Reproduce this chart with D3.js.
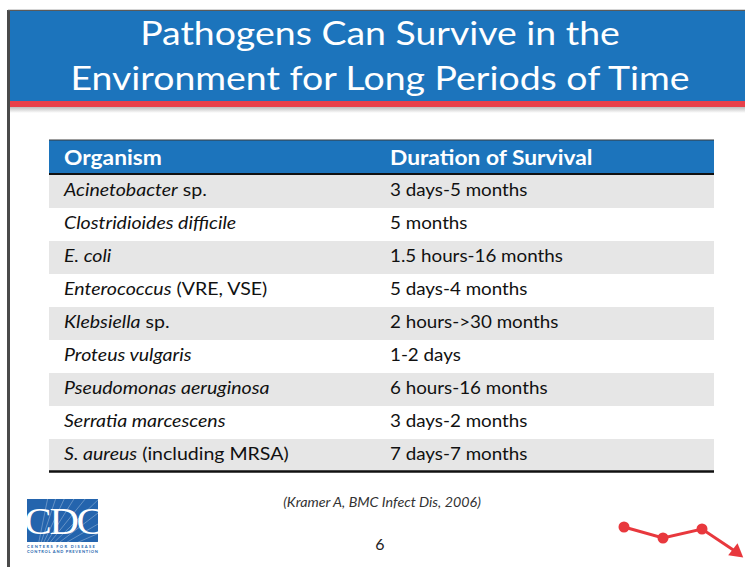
<!DOCTYPE html>
<html>
<head>
<meta charset="utf-8">
<script src="https://cdn.jsdelivr.net/npm/d3@7/dist/d3.min.js"></script>
<style>
  html, body { margin: 0; padding: 0; background: #ffffff; }
  svg { display: block; font-family: Lato, "Open Sans", sans-serif; }
</style>
</head>
<body>
<svg id="slide" width="745" height="567"></svg>
<script>
// 標題
const titleLines = ['Pathogens Can Survive in the', 'Environment for Long Periods of Time'];

// 表格欄位
const columns = ['Organism', 'Duration of Survival'];

// 菌種名稱 (斜體部分 + 正體部分)
const organismItalic = ['Acinetobacter', 'Clostridioides difficile', 'E. coli', 'Enterococcus', 'Klebsiella',
  'Proteus vulgaris', 'Pseudomonas aeruginosa', 'Serratia marcescens', 'S. aureus'];
const organismPlain = [' sp.', '', '', ' (VRE, VSE)', ' sp.', '', '', '', ' (including MRSA)'];

// 存活時間
const survival = ['3 days-5 months', '5 months', '1.5 hours-16 months', '5 days-4 months', '2 hours->30 months',
  '1-2 days', '6 hours-16 months', '3 days-2 months', '7 days-7 months'];

const citation = '(Kramer A, BMC Infect Dis, 2006)';
const pageNumber = '6';

// 右下角裝飾折線
const trendX = [0, 1, 2, 2.88];
const trendY = [3, 1.9, 2.8, 0.5];

// Calibri 比 Lato 寬，用水平縮放補回來
const STRETCH_TITLE = 1.17;
const STRETCH_HEADER = 1.085;
const STRETCH_ORG = 1.15;
const STRETCH_DUR = 1.105;

const svg = d3.select('#slide');

// 投影片邊框
svg.append('rect').attr('x', 0).attr('y', 0).attr('width', 745).attr('height', 567).attr('fill', '#ffffff');
svg.append('line').attr('x1', 8.5).attr('x2', 8.5).attr('y1', 10).attr('y2', 567)
  .attr('stroke', '#4a4a4a').attr('stroke-width', 3);
svg.append('line').attr('x1', 8).attr('x2', 745).attr('y1', 10.5).attr('y2', 10.5)
  .attr('stroke', '#5a5a5a').attr('stroke-width', 1.5);

// 標題區
const defs = svg.append('defs');
const grad = defs.append('linearGradient').attr('id', 'shadow').attr('x1', 0).attr('x2', 0).attr('y1', 0).attr('y2', 1);
grad.append('stop').attr('offset', 0).attr('stop-color', '#bdbdbd');
grad.append('stop').attr('offset', 1).attr('stop-color', '#ffffff');

svg.append('rect').attr('x', 10).attr('y', 11).attr('width', 735).attr('height', 91).attr('fill', '#1c74bc');
svg.append('rect').attr('x', 10).attr('y', 101).attr('width', 735).attr('height', 6).attr('fill', '#e8404a');
svg.append('rect').attr('x', 10).attr('y', 107).attr('width', 735).attr('height', 6).attr('fill', 'url(#shadow)');

svg.selectAll('text.title')
  .data(titleLines)
  .enter()
  .append('text')
  .attr('class', 'title')
  .attr('transform', (d, i) => `translate(380,${45 + i * 45}) scale(${STRETCH_TITLE},1)`)
  .attr('text-anchor', 'middle')
  .attr('fill', '#ffffff')
  .style('font-size', '32px')
  .text(d => d);

// 表格
const tableLeft = 49, tableRight = 714, colX = [64, 390];
const headerTop = 140, headerBottom = 174, tableBottom = 472;

svg.append('rect').attr('x', tableLeft).attr('y', headerTop).attr('width', tableRight - tableLeft)
  .attr('height', headerBottom - headerTop).attr('fill', '#1c74bc');
svg.append('line').attr('x1', tableLeft).attr('x2', tableRight).attr('y1', headerTop).attr('y2', headerTop)
  .attr('stroke', '#3a3a3a').attr('stroke-width', 1);

svg.selectAll('text.header')
  .data(columns)
  .enter()
  .append('text')
  .attr('class', 'header')
  .attr('transform', (d, i) => `translate(${colX[i]},165) scale(${STRETCH_HEADER},1)`)
  .attr('fill', '#ffffff')
  .style('font-size', '21px')
  .style('font-weight', 'bold')
  .text(d => d);

const rowScale = d3.scaleBand()
  .domain(d3.range(organismItalic.length))
  .range([headerBottom + 1, tableBottom]);

const rows = svg.selectAll('g.row')
  .data(d3.range(organismItalic.length))
  .enter()
  .append('g')
  .attr('class', 'row')
  .attr('transform', i => `translate(0,${rowScale(i)})`);

rows.append('rect')
  .attr('x', tableLeft)
  .attr('width', tableRight - tableLeft)
  .attr('height', rowScale.bandwidth())
  .attr('fill', i => i % 2 === 0 ? '#e6e6e6' : '#ffffff');

const baseY = rowScale.bandwidth() / 2 + 4;

const orgText = rows.append('text')
  .attr('transform', `translate(${colX[0]},${baseY}) scale(${STRETCH_ORG},1)`)
  .attr('fill', '#111111')
  .style('font-size', '17px');
orgText.append('tspan').style('font-style', 'italic').text(i => organismItalic[i]);
orgText.append('tspan').attr('xml:space', 'preserve').style('white-space', 'pre').text(i => organismPlain[i]);

rows.append('text')
  .attr('transform', `translate(${colX[1]},${baseY}) scale(${STRETCH_DUR},1)`)
  .attr('fill', '#111111')
  .style('font-size', '17px')
  .text(i => survival[i]);

svg.append('line').attr('x1', tableLeft).attr('x2', tableRight).attr('y1', headerBottom).attr('y2', headerBottom)
  .attr('stroke', '#111111').attr('stroke-width', 2);
svg.append('line').attr('x1', tableLeft).attr('x2', tableRight).attr('y1', tableBottom - 0.5).attr('y2', tableBottom - 0.5)
  .attr('stroke', '#111111').attr('stroke-width', 2.5);

// 出處與頁碼
svg.append('text').attr('transform', 'translate(382,507) scale(1.1,1)').attr('text-anchor', 'middle')
  .attr('fill', '#333333').style('font-size', '13px').style('font-style', 'italic').text(citation);
svg.append('text').attr('x', 380).attr('y', 550).attr('text-anchor', 'middle')
  .attr('fill', '#222222').style('font-size', '16px').text(pageNumber);

// CDC 標誌
const logo = svg.append('g').attr('transform', 'translate(27,499)');
defs.append('clipPath').attr('id', 'logoClip').append('rect').attr('width', 71).attr('height', 43);
logo.append('rect').attr('width', 71).attr('height', 43).attr('fill', '#2464ad');
const rays = logo.append('g').attr('clip-path', 'url(#logoClip)');
d3.range(12).forEach(k => {
  const a = -Math.PI / 2 + 0.2 + k * 0.12;
  rays.append('line')
    .attr('x1', 8).attr('y1', 62)
    .attr('x2', 8 + Math.cos(a) * 120).attr('y2', 62 + Math.sin(a) * 120)
    .attr('stroke', '#ffffff').attr('stroke-opacity', 0.5).attr('stroke-width', 0.6);
});
logo.append('text').attr('transform', 'translate(36,35) scale(1.1,1)').attr('text-anchor', 'middle')
  .attr('fill', '#ffffff').style('font-family', '"Liberation Serif", "DejaVu Serif", serif')
  .style('font-size', '37px').style('letter-spacing', '-2px').text('CDC');
logo.append('text').attr('x', 0).attr('y', 48.5).attr('fill', '#2464ad')
  .style('font-size', '4px').style('font-weight', 'bold').style('letter-spacing', '1.35px').text('CENTERS FOR DISEASE');
logo.append('text').attr('x', 0).attr('y', 53.5).attr('fill', '#2464ad')
  .style('font-size', '4px').style('font-weight', 'bold').style('letter-spacing', '0.75px').text('CONTROL AND PREVENTION');

// 裝飾折線
const tx = d3.scaleLinear().domain([0, 3]).range([624, 741]);
const ty = d3.scaleLinear().domain([0, 4]).range([557, 517]);
const trendData = trendX.map((x, i) => [x, trendY[i]]);

svg.append('path')
  .datum(trendData)
  .attr('fill', 'none')
  .attr('stroke', '#e8383d')
  .attr('stroke-width', 3)
  .attr('d', d3.line().x(d => tx(d[0])).y(d => ty(d[1])));

svg.selectAll('circle.trend')
  .data(trendData.slice(0, 3))
  .enter()
  .append('circle')
  .attr('class', 'trend')
  .attr('cx', d => tx(d[0]))
  .attr('cy', d => ty(d[1]))
  .attr('r', 5.5)
  .attr('fill', '#e8383d');

const last = trendData[trendData.length - 1];
svg.append('path')
  .attr('d', d3.symbol().type(d3.symbolTriangle).size(100)())
  .attr('transform', `translate(${tx(last[0])},${ty(last[1])}) rotate(8)`)
  .attr('fill', '#e8383d');
</script>
</body>
</html>
